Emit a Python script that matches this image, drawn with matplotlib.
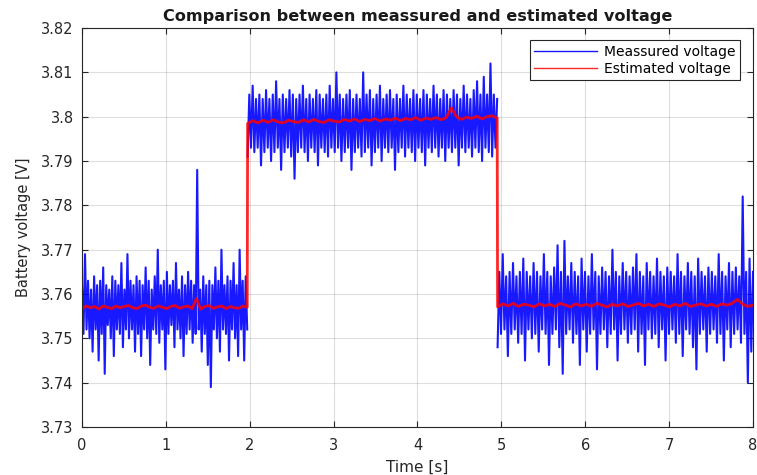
import numpy as np
import matplotlib
matplotlib.use("Agg")
import matplotlib.pyplot as plt

plt.rcParams['font.family'] = ['DejaVu Sans']

# measured voltage, mV, three load phases
meas1_mv = [3762, 3751, 3769, 3752, 3763, 3750, 3761, 3747, 3764, 3752,
            3762, 3745, 3763, 3751, 3766, 3742, 3762, 3753, 3761, 3750,
            3764, 3746, 3763, 3752, 3762, 3751, 3767, 3748, 3761, 3752,
            3769, 3750, 3763, 3752, 3762, 3747, 3764, 3751, 3763, 3746,
            3762, 3752, 3766, 3750, 3763, 3744, 3761, 3752, 3764, 3751,
            3770, 3749, 3762, 3752, 3763, 3743, 3765, 3751, 3762, 3753,
            3763, 3748, 3767, 3752, 3761, 3750, 3764, 3746, 3762, 3751,
            3765, 3752, 3763, 3749, 3762, 3751, 3788, 3752, 3761, 3747,
            3764, 3751, 3762, 3744, 3763, 3739, 3762, 3752, 3766, 3750,
            3763, 3747, 3770, 3752, 3762, 3751, 3764, 3745, 3763, 3752,
            3767, 3750, 3762, 3746, 3770, 3752, 3763, 3745, 3764, 3752]

meas2_mv = [3791, 3805, 3793, 3807, 3792, 3804, 3793, 3805, 3789, 3804,
            3792, 3806, 3793, 3804, 3790, 3805, 3792, 3808, 3793, 3804,
            3788, 3805, 3792, 3804, 3793, 3806, 3791, 3805, 3786, 3804,
            3792, 3805, 3793, 3807, 3792, 3804, 3790, 3805, 3793, 3804,
            3792, 3806, 3789, 3805, 3793, 3804, 3792, 3805, 3791, 3807,
            3793, 3804, 3792, 3810, 3793, 3805, 3790, 3804, 3792, 3805,
            3793, 3806, 3788, 3804, 3792, 3805, 3793, 3804, 3791, 3810,
            3792, 3805, 3793, 3806, 3789, 3804, 3792, 3805, 3793, 3807,
            3790, 3804, 3793, 3805, 3792, 3806, 3793, 3804, 3788, 3805,
            3792, 3804, 3793, 3807, 3791, 3805, 3793, 3804, 3792, 3806,
            3790, 3805, 3793, 3804, 3792, 3806, 3789, 3805, 3793, 3804,
            3792, 3807, 3793, 3805, 3791, 3804, 3793, 3806, 3790, 3805,
            3793, 3804, 3792, 3806, 3793, 3805, 3789, 3804, 3793, 3807,
            3792, 3805, 3793, 3804, 3791, 3806, 3793, 3808, 3792, 3805,
            3790, 3809, 3793, 3805, 3792, 3812, 3791, 3805, 3793, 3804]

meas3_mv = [3748, 3765, 3751, 3769, 3752, 3764, 3746, 3765, 3751, 3767,
            3752, 3764, 3749, 3765, 3751, 3768, 3745, 3765, 3752, 3764,
            3750, 3767, 3751, 3765, 3747, 3764, 3752, 3769, 3751, 3765,
            3744, 3764, 3751, 3766, 3752, 3771, 3748, 3765, 3742, 3772,
            3751, 3764, 3752, 3767, 3749, 3765, 3751, 3764, 3744, 3768,
            3752, 3765, 3747, 3764, 3751, 3769, 3752, 3765, 3743, 3764,
            3751, 3766, 3752, 3765, 3748, 3764, 3751, 3770, 3752, 3765,
            3745, 3764, 3751, 3767, 3752, 3765, 3749, 3764, 3751, 3766,
            3752, 3769, 3747, 3765, 3751, 3764, 3744, 3767, 3752, 3765,
            3750, 3764, 3751, 3768, 3748, 3765, 3752, 3764, 3745, 3766,
            3751, 3765, 3752, 3764, 3749, 3769, 3751, 3765, 3746, 3764,
            3752, 3767, 3751, 3765, 3748, 3764, 3743, 3768, 3751, 3765,
            3752, 3764, 3747, 3766, 3751, 3765, 3752, 3764, 3749, 3769,
            3751, 3765, 3745, 3764, 3752, 3767, 3748, 3765, 3751, 3766,
            3752, 3764, 3749, 3782, 3751, 3765, 3740, 3768, 3747, 3765]

# estimated voltage, tenths of mV
est1 = [37567, 37573, 37569, 37572, 37566, 37573, 37570, 37567, 37573, 37569,
        37572, 37574, 37569, 37567, 37573, 37575, 37570, 37568, 37573, 37570,
        37567, 37572, 37574, 37568, 37571, 37573, 37567, 37590, 37566, 37572,
        37574, 37568, 37571, 37573, 37567, 37572, 37569, 37568, 37573, 37570]
est2 = [37985, 37991, 37986, 37992, 37987, 37993, 37988, 37986, 37992, 37989,
        37987, 37993, 37988, 37994, 37989, 37987, 37993, 37990, 37988, 37994,
        37990, 37995, 37989, 37994, 37991, 37996, 37990, 37995, 37992, 37997,
        37991, 37996, 37993, 37998, 37992, 37997, 37994, 37998, 37993, 37998,
        38020, 38000, 37994, 37999, 37996, 38001, 37995, 38000, 38002, 37997]
est3 = [37571, 37578, 37573, 37579, 37572, 37577, 37575, 37571, 37578, 37573,
        37577, 37572, 37579, 37575, 37571, 37578, 37573, 37577, 37572, 37579,
        37575, 37571, 37577, 37573, 37578, 37572, 37575, 37579, 37573, 37577,
        37572, 37578, 37575, 37571, 37577, 37573, 37579, 37572, 37575, 37578,
        37573, 37577, 37572, 37578, 37575, 37579, 37588, 37577, 37572, 37575]

# phase boundaries [s]
phases = [(0.0, 1.97), (1.975, 4.95), (4.955, 8.0)]

fig = plt.figure(figsize=(7.57, 4.75), dpi=100)
ax = fig.add_axes([0.1083, 0.101, 0.8864, 0.840])

meas = [meas1_mv, meas2_mv, meas3_mv]
for k, (seg, (t0, t1)) in enumerate(zip(meas, phases)):
    t = np.linspace(t0, t1, len(seg))
    ax.plot(t, np.array(seg) / 1000.0, color=(0, 0, 1), lw=1.5, alpha=0.9,
            label='Meassured voltage' if k == 0 else None)

t_est = np.concatenate([np.linspace(t0, t1, len(s)) for s, (t0, t1) in zip([est1, est2, est3], phases)])
v_est = np.array(est1 + est2 + est3) / 10000.0
ax.plot(t_est, v_est, color=(1, 0, 0), lw=2.0, alpha=0.85, label='Estimated voltage')

ax.set_xlim(0, 8)
ax.set_ylim(3.73, 3.82)
ax.set_xticks(range(0, 9))
ax.set_yticks([3.73, 3.74, 3.75, 3.76, 3.77, 3.78, 3.79, 3.8, 3.81, 3.82])
ax.set_yticklabels(['3.73', '3.74', '3.75', '3.76', '3.77', '3.78', '3.79', '3.8', '3.81', '3.82'])
ax.grid(True, color=(0.15, 0.15, 0.15), alpha=0.15, lw=0.8)
ax.tick_params(direction='in', top=True, right=True, labelsize=10.5,
               colors=(0.15, 0.15, 0.15), length=4)
ax.tick_params(axis='x', pad=8)
ax.tick_params(axis='y', pad=6)
for s in ax.spines.values():
    s.set_color((0.15, 0.15, 0.15))
    s.set_linewidth(0.8)

ax.set_title('Comparison between meassured and estimated voltage', fontsize=11.6,
             fontweight='bold', color=(0.1, 0.1, 0.1), pad=5)
ax.set_xlabel('Time [s]', fontsize=11, color=(0.15, 0.15, 0.15), labelpad=5)
ax.set_ylabel('Battery voltage [V]', fontsize=10.5, color=(0.15, 0.15, 0.15), labelpad=7)

leg = ax.legend(loc='upper right', bbox_to_anchor=(0.981, 0.97), borderaxespad=0,
                fontsize=10, fancybox=False, framealpha=1, edgecolor=(0.15, 0.15, 0.15),
                handlelength=4.5, borderpad=0.35, labelspacing=0.2, handletextpad=0.5)
leg.get_frame().set_linewidth(0.8)
for h in leg.get_lines():
    h.set_linewidth(1.0)

fig.savefig('out.png', dpi=100)
